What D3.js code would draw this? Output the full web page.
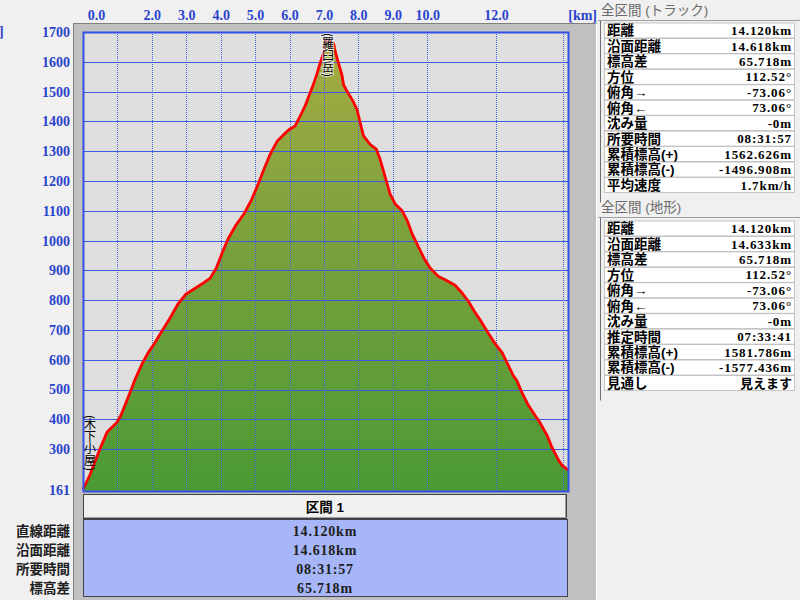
<!DOCTYPE html>
<html><head><meta charset="utf-8">
<script src="https://cdn.jsdelivr.net/npm/d3@7"></script>
<style>body{margin:0;background:#f0f0f0;} svg{display:block}</style>
</head><body>
<svg id="c" width="800" height="600"></svg>
<script>
// ---- data ----
const distKm = [0.00,0.20,0.49,0.70,0.99,1.10,1.31,1.51,1.72,1.89,2.09,2.30,2.53,2.76,2.99,3.26,3.49,3.69,3.87,4.04,4.22,4.45,4.68,4.91,5.09,5.26,5.44,5.64,5.81,5.99,6.16,6.31,6.45,6.60,6.69,6.79,6.89,6.99,7.04,7.12,7.28,7.33,7.42,7.52,7.57,7.67,7.82,7.96,8.05,8.15,8.34,8.52,8.63,8.78,8.92,9.07,9.27,9.42,9.56,9.74,9.91,10.09,10.32,10.55,10.81,11.02,11.19,11.37,11.54,11.77,11.98,12.18,12.35,12.50,12.61,12.75,12.94,13.14,13.24,13.48,13.62,13.82,13.92,14.08,14.12];
const elevM  = [165,213,300,357,390,413,473,533,587,623,657,697,740,787,820,840,857,873,907,957,1007,1053,1090,1140,1190,1240,1290,1333,1353,1373,1384,1418,1451,1496,1523,1557,1596,1629,1668,1672,1662,1634,1596,1557,1523,1501,1473,1440,1397,1351,1323,1307,1273,1213,1157,1123,1100,1067,1023,980,940,907,880,867,850,823,797,763,733,690,653,623,583,547,529,490,447,412,396,347,307,262,245,231,228];
const xGridKm = [1,2,3,4,5,6,7,8,9,10,12];
const xTickValues = [0,2,3,4,5,6,7,8,9,10,12];
const xTickLabels = ["0.0","2.0","3.0","4.0","5.0","6.0","7.0","8.0","9.0","10.0","12.0"];
const endMarkerKm = [13.95];
const yTickValues = [161,300,400,500,600,700,800,900,1000,1100,1200,1300,1400,1500,1600,1700];
const xMax = 14.12, yMin = 161, yMax = 1700;
const placeNames = ["(木下小屋)","(羅臼岳)"];
const placeKm = [0, 7.12];

const trackTitle = "全区間 (トラック)";
const trackLabels = ["距離","沿面距離","標高差","方位","俯角→","俯角←","沈み量","所要時間","累積標高(+)","累積標高(-)","平均速度"];
const trackValues = ["14.120km","14.618km","65.718m","112.52°","-73.06°","73.06°","-0m","08:31:57","1562.626m","-1496.908m","1.7km/h"];
const terrainTitle = "全区間 (地形)";
const terrainLabels = ["距離","沿面距離","標高差","方位","俯角→","俯角←","沈み量","推定時間","累積標高(+)","累積標高(-)","見通し"];
const terrainValues = ["14.120km","14.633km","65.718m","112.52°","-73.06°","73.06°","-0m","07:33:41","1581.786m","-1577.436m","見えます"];
const sectionHeader = "区間 1";
const sectionLabels = ["直線距離","沿面距離","所要時間","標高差"];
const sectionValues = ["14.120km","14.618km","08:31:57","65.718m"];

// ---- drawing ----
const svg = d3.select("#c");
const blue = "#2a44cc";
const numFont = "'Liberation Serif', serif";
const cjkFont = "'Liberation Sans', 'Noto Sans CJK JP', sans-serif";
const P = {l:83, r:569, t:32, b:492};

const x = d3.scaleLinear().domain([0, xMax]).range([P.l, P.r]);
const y = d3.scaleLinear().domain([yMin, yMax]).range([490.5, 32]);

// outer gray frame
svg.append("rect").attr("x",73).attr("y",23).attr("width",524).attr("height",577).attr("fill","#c0c0c0");
svg.append("path").attr("d","M73.5,600V23.5H597").attr("fill","none").attr("stroke","#808080");
svg.append("path").attr("d","M596.5,23.5V600").attr("fill","none").attr("stroke","#ffffff");

// plot bg
svg.append("rect").attr("x",P.l).attr("y",P.t).attr("width",P.r-P.l).attr("height",P.b-P.t).attr("fill","#dedede");

// gradient
const defs = svg.append("defs");
const g = defs.append("linearGradient").attr("id","gr").attr("gradientUnits","userSpaceOnUse")
  .attr("x1",0).attr("y1",P.t).attr("x2",0).attr("y2",P.b);
g.append("stop").attr("offset","0%").attr("stop-color","#a8ac44");
g.append("stop").attr("offset","50%").attr("stop-color","#76a03c");
g.append("stop").attr("offset","100%").attr("stop-color","#4a9a34");
defs.append("clipPath").attr("id","clip").append("rect").attr("x",P.l).attr("y",P.t).attr("width",P.r-P.l).attr("height",P.b-P.t);

const pts = distKm.map((d,i)=>[d, elevM[i]]);
const area = d3.area().x(d=>x(d[0])).y0(P.b).y1(d=>y(d[1]));
svg.append("path").datum(pts).attr("d",area).attr("fill","url(#gr)").attr("clip-path","url(#clip)");

// grid
svg.append("g").selectAll("line").data(yTickValues.filter(v=>v!==yMin && v!==yMax)).join("line")
  .attr("x1",P.l).attr("x2",P.r).attr("y1",d=>Math.round(y(d))+0.5).attr("y2",d=>Math.round(y(d))+0.5)
  .attr("stroke","#3c5ae0").attr("stroke-width",1);
svg.append("g").selectAll("line").data(xGridKm.concat(endMarkerKm)).join("line")
  .attr("x1",d=>Math.round(x(d))+0.5).attr("x2",d=>Math.round(x(d))+0.5).attr("y1",P.t).attr("y2",P.b)
  .attr("stroke","#4a66dd").attr("stroke-width",1).attr("stroke-dasharray","1,1");

// track line
const line = d3.line().x(d=>x(d[0])).y(d=>y(d[1]));
svg.append("path").datum(pts).attr("d",line).attr("fill","none").attr("stroke","#ff0000")
  .attr("stroke-width",2.8).attr("stroke-linejoin","round");

// plot border
svg.append("rect").attr("x",P.l+0.5).attr("y",P.t+0.5).attr("width",P.r-P.l-1).attr("height",P.b-P.t-1)
  .attr("fill","none").attr("stroke","#3450e6").attr("stroke-width",2);

// place labels
placeNames.forEach((n,i)=>{
  const top = i===1;
  svg.append("text").attr("x", x(placeKm[i]) + (top?0:7)).attr("y", top? 33 : 471)
    .attr("writing-mode","vertical-rl").attr("text-anchor", top?"start":"end")
    .style("font-family","'Noto Sans CJK JP', sans-serif").style("font-size","12px").attr("fill","#000")
    .attr("stroke", top? "rgba(255,255,255,0.7)":"none").attr("stroke-width",2).attr("paint-order","stroke")
    .text(n);
});

// top axis
const xAxis = d3.axisTop(x).tickValues(xTickValues).tickFormat((d,i)=>xTickLabels[i]).tickSize(0).tickPadding(0);
const xa = svg.append("g").attr("transform","translate(0,20)").call(xAxis);
xa.select(".domain").remove();
xa.selectAll("text").attr("fill",blue).style("font-family",numFont).style("font-weight","bold").style("font-size","14px")
  .attr("dx",d=>d===0?13:0);
svg.append("text").attr("x",597).attr("y",20).attr("text-anchor","end").attr("fill",blue)
  .style("font-family",numFont).style("font-weight","bold").style("font-size","14px").text("[km]");
svg.append("text").attr("x",-1).attr("y",36).attr("fill",blue)
  .style("font-family",numFont).style("font-weight","bold").style("font-size","14px").text("]");

// left axis
const yAxis = d3.axisLeft(y).tickValues(yTickValues).tickFormat(d3.format("d")).tickSize(0).tickPadding(0);
const ya = svg.append("g").attr("transform","translate(70,0)").call(yAxis);
ya.select(".domain").remove();
ya.selectAll("text").attr("fill",blue).style("font-family",numFont).style("font-weight","bold").style("font-size","14px");

// bottom section table
svg.append("rect").attr("x",83.5).attr("y",494.5).attr("width",483).attr("height",24).attr("fill","#f0f0f0").attr("stroke","#404040");
svg.append("path").attr("d","M84.5,517.5H566.5M565.5,495V518").attr("stroke","#a0a0a0").attr("fill","none");
svg.append("text").attr("x",325).attr("y",512).attr("text-anchor","middle").style("font-family",cjkFont)
  .style("font-weight","bold").style("font-size","13.5px").text(sectionHeader);
svg.append("rect").attr("x",83.5).attr("y",519.5).attr("width",484).attr("height",77).attr("fill","#a6b6f8").attr("stroke","#404050");
const rowY = d3.scalePoint().domain(d3.range(sectionValues.length)).range([531,588]);
sectionValues.forEach((v,i)=>{
  svg.append("text").attr("x",325).attr("y",rowY(i)).attr("dy","0.35em").attr("text-anchor","middle")
    .style("font-family",numFont).style("font-weight","bold").style("font-size","14px").style("letter-spacing","0.8px")
    .attr("fill","#202020").text(v);
  svg.append("text").attr("x",70).attr("y",rowY(i)).attr("dy","0.35em").attr("text-anchor","end")
    .style("font-family",cjkFont).style("font-weight","bold").style("font-size","13.5px").attr("fill","#202020").text(sectionLabels[i]);
});

// right panels
function panel(title, labels, values, titleY, row0){
  const h = 15.45;
  svg.append("text").attr("x",601).attr("y",titleY).attr("dy","0.35em").style("font-family",cjkFont)
    .style("font-size","13.5px").attr("fill","#6a6a6a").text(title);
  svg.append("line").attr("x1",598).attr("x2",800).attr("y1",titleY+10.5).attr("y2",titleY+10.5).attr("stroke","#a0a0a0");
  svg.append("line").attr("x1",600.5).attr("x2",600.5).attr("y1",titleY+10.5).attr("y2",row0+h*labels.length+2).attr("stroke","#707070");
  labels.forEach((l,i)=>{
    const cy = row0 + h*i;
    svg.append("rect").attr("x",604.5).attr("y",cy-7.5).attr("width",190).attr("height",h-0.5)
      .attr("fill","#ffffff").attr("stroke","#b8b8b8").attr("stroke-width",0.8);
    svg.append("text").attr("x",607).attr("y",cy).attr("dy","0.36em").style("font-family",cjkFont)
      .style("font-weight","bold").style("font-size","13.5px").attr("fill","#000").text(l);
    const ascii = /^[\x00-\x7f°]+$/.test(values[i]);
    svg.append("text").attr("x",792).attr("y",cy).attr("dy","0.35em").attr("text-anchor","end")
      .style("font-family", ascii ? numFont : cjkFont)
      .style("letter-spacing", ascii ? "0.9px" : "0px")
      .style("font-weight","bold").style("font-size","13px").attr("fill","#000").text(values[i]);
  });
}
panel(trackTitle, trackLabels, trackValues, 10, 30.5);
panel(terrainTitle, terrainLabels, terrainValues, 207, 228.5);
</script>
</body></html>
